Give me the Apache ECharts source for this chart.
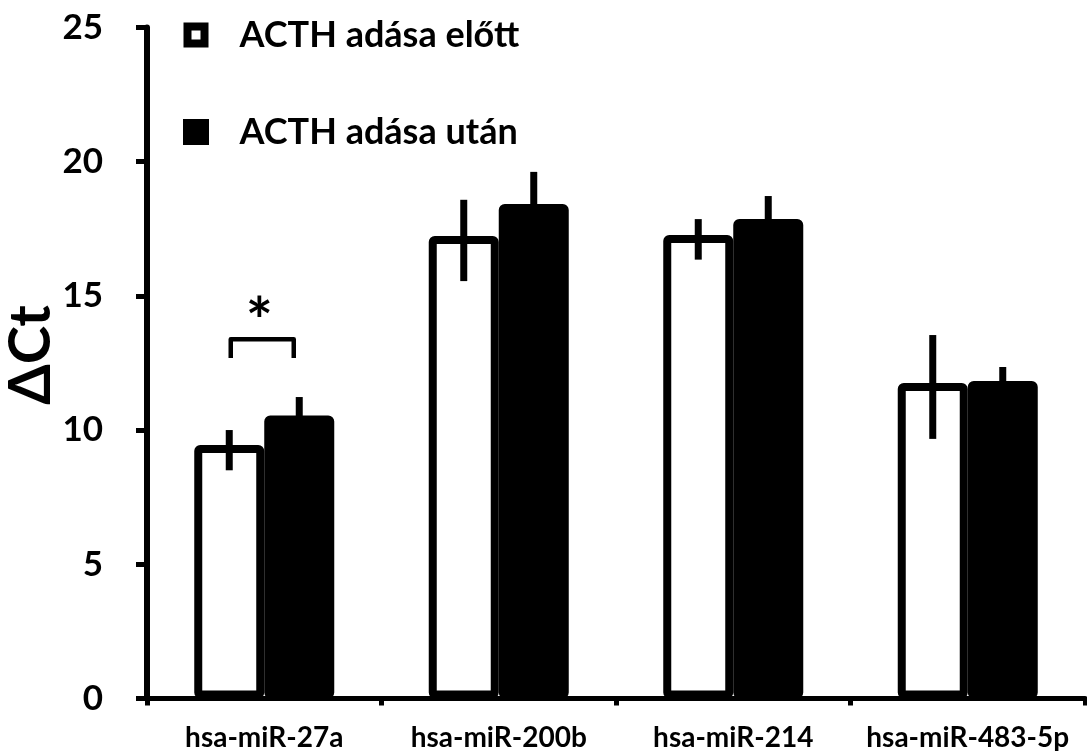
<!DOCTYPE html>
<html><head><meta charset="utf-8">
<script src="https://cdn.jsdelivr.net/npm/echarts@6/dist/echarts.min.js"></script>
<style>html,body{margin:0;padding:0;background:#fff}#c{width:1087px;height:751px}</style>
</head><body><div id="c"></div>
<script>
var categories = ['hsa-miR-27a', 'hsa-miR-200b', 'hsa-miR-214', 'hsa-miR-483-5p'];
var seriesNames = ['ACTH adása előtt', 'ACTH adása után'];
var before = [9.44, 17.23, 17.27, 11.75];
var beforeErrLow = [8.5, 15.55, 16.35, 9.67];
var beforeErrHigh = [10.0, 18.58, 17.86, 13.54];
var after = [10.54, 18.42, 17.86, 11.83];
var afterErrLow = [9.8, 17.2, 17.0, 11.3];
var afterErrHigh = [11.23, 19.62, 18.72, 12.35];
var yTicks = [0, 5, 10, 15, 20, 25];
var sigBracket = [[0, 13.38, 12.68]];
var sigStar = [[0, 14.5, '*']];

var FONT = 'Lato';
var BAR_W = 70;

function errData(lo, hi) {
  return categories.map(function (c, i) { return [i, lo[i], hi[i]]; });
}
function errRender(offset) {
  return function (params, api) {
    var i = api.value(0);
    var p1 = api.coord([i, api.value(1)]);
    var p2 = api.coord([i, api.value(2)]);
    var x = p1[0] + offset;
    return {
      type: 'line',
      shape: { x1: x, y1: p1[1], x2: x, y2: p2[1] },
      style: { stroke: '#000', lineWidth: 7 },
      z2: 10
    };
  };
}

var chart = echarts.init(document.getElementById('c'), null, { renderer: 'canvas' });
chart.setOption({
  animation: false,
  grid: { left: 147, right: 2, top: 27.5, bottom: 52.6, containLabel: false, outerBoundsMode: 'none' },
  legend: {
    orient: 'vertical',
    left: 183,
    top: 17,
    padding: 0,
    itemGap: 61,
    itemWidth: 17,
    itemHeight: 17,
    textStyle: { fontFamily: FONT, fontWeight: 'bold', fontSize: 36, color: '#000', lineHeight: 36, padding: [0, 0, 0, 30] },
    data: [
      { name: seriesNames[0], icon: 'rect', itemStyle: { color: '#fff', borderColor: '#000', borderWidth: 8 } },
      { name: seriesNames[1], icon: 'rect', itemStyle: { color: '#000', borderColor: '#000', borderWidth: 9 } }
    ]
  },
  xAxis: {
    type: 'category',
    data: categories,
    axisLine: { lineStyle: { color: '#000', width: 5 } },
    axisTick: { show: true, length: 7, lineStyle: { color: '#000', width: 5 } },
    axisLabel: { interval: 0, fontFamily: FONT, fontWeight: 'bold', fontSize: 28, color: '#000', margin: 26 }
  },
  yAxis: {
    type: 'value',
    min: yTicks[0],
    max: yTicks[yTicks.length - 1],
    interval: yTicks[1] - yTicks[0],
    name: 'ΔCt',
    nameLocation: 'middle',
    nameRotate: 90,
    nameGap: 87,
    nameMoveOverlap: false,
    nameTextStyle: { fontFamily: FONT, fontWeight: 'bold', fontSize: 58, color: '#000', padding: [0, 0, 0, 16] },
    splitLine: { show: false },
    axisLine: { show: true, lineStyle: { color: '#000', width: 6 } },
    axisTick: { show: true, length: 11, lineStyle: { color: '#000', width: 5 } },
    axisLabel: { fontFamily: FONT, fontWeight: 'bold', fontSize: 35, color: '#000', margin: 44 }
  },
  series: [
    {
      name: seriesNames[0], type: 'bar', data: before,
      barWidth: BAR_W, barGap: '0%',
      itemStyle: { color: '#fff', borderColor: '#000', borderWidth: 8, borderRadius: 2 }
    },
    {
      name: seriesNames[1], type: 'bar', data: after,
      barWidth: BAR_W, barGap: '0%',
      itemStyle: { color: '#000', borderColor: '#000', borderWidth: 8, borderRadius: 2 }
    },
    {
      type: 'custom', data: errData(beforeErrLow, beforeErrHigh), z: 5,
      renderItem: errRender(-BAR_W / 2), silent: true
    },
    {
      type: 'custom', data: errData(afterErrLow, afterErrHigh), z: 5,
      renderItem: errRender(BAR_W / 2), silent: true
    },
    {
      type: 'custom', data: sigBracket, z: 6, silent: true,
      renderItem: function (params, api) {
        var i = api.value(0);
        var top = api.coord([i, api.value(1)]);
        var bot = api.coord([i, api.value(2)]);
        var cx = top[0] - 2;
        var xl = cx - 31.5, xr = cx + 31.5;
        return {
          type: 'polyline',
          shape: { points: [[xl, bot[1]], [xl, top[1]], [xr, top[1]], [xr, bot[1]]] },
          style: { stroke: '#000', lineWidth: 4.5, fill: null, lineJoin: 'round' }
        };
      }
    },
    {
      type: 'custom', data: sigStar, z: 6, silent: true,
      renderItem: function (params, api) {
        var p = api.coord([api.value(0), api.value(1)]);
        return {
          type: 'text',
          x: p[0] - 5, y: p[1] + 14,
          style: { text: '*', fontFamily: FONT, fontWeight: 'bold', fontSize: 64, fill: '#000', align: 'center', verticalAlign: 'middle' }
        };
      }
    }
  ]
});
</script>
</body></html>
